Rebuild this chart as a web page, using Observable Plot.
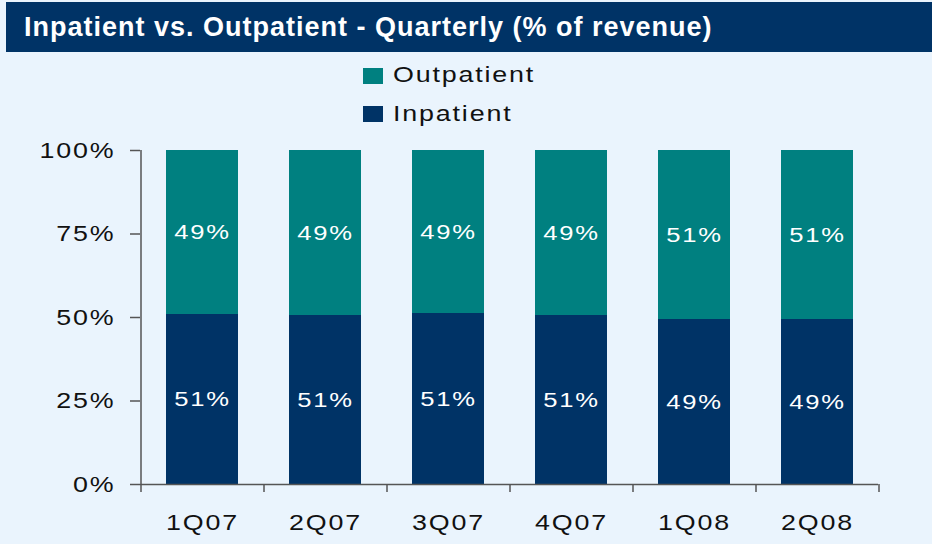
<!DOCTYPE html>
<html><head><meta charset="utf-8">
<script src="https://cdn.jsdelivr.net/npm/d3@7"></script>
<script src="https://cdn.jsdelivr.net/npm/@observablehq/plot@0.6"></script>
<style>
html,body{margin:0;padding:0;background:#eaf4fd;width:932px;height:544px;overflow:hidden;font-family:"Liberation Sans",Arial,sans-serif;}
#title{position:absolute;left:6px;top:2px;width:926px;height:50px;background:#003366;color:#fff;font-weight:bold;font-size:27px;line-height:50px;padding-left:18px;box-sizing:border-box;letter-spacing:1px;white-space:nowrap;}
.sw{position:absolute;width:20px;height:16px;}
.lt{position:absolute;font-size:22px;line-height:22px;letter-spacing:1.5px;color:#111;white-space:nowrap;transform:scaleX(1.22);transform-origin:0 50%;}
#chart{position:absolute;left:0;top:130px;}
#chart svg text{letter-spacing:1.5px;}
</style></head><body>
<div id="title">Inpatient vs. Outpatient - Quarterly (% of revenue)</div>
<div id="legend"></div>
<div id="chart"></div>
<script>
const quarters = ["1Q07","2Q07","3Q07","4Q07","1Q08","2Q08"];
const inpatient = [50.9, 50.6, 51.2, 50.6, 49.4, 49.4];
const outpatient = [49.1, 49.4, 48.8, 49.4, 50.6, 50.6];
const inpatientLabels = ["51%","51%","51%","51%","49%","49%"];
const outpatientLabels = ["49%","49%","49%","49%","51%","51%"];
const seriesNames = ["Inpatient","Outpatient"];
const seriesColors = ["#003366","#008080"];
const legendOrder = ["Outpatient","Inpatient"];
const yTicks = [0,25,50,75,100];

const rows = [];
quarters.forEach((q,i)=>rows.push({quarter:q, series:"Inpatient", value:inpatient[i], label:inpatientLabels[i], mid:inpatient[i]/2}));
quarters.forEach((q,i)=>rows.push({quarter:q, series:"Outpatient", value:outpatient[i], label:outpatientLabels[i], mid:inpatient[i]+outpatient[i]/2}));

// legend (HTML, above the svg)
const legend = document.getElementById("legend");
legendOrder.forEach((name,k)=>{
  const sw = document.createElement("div");
  sw.className = "sw";
  sw.style.left = "363px";
  sw.style.top = (68 + 38*k) + "px";
  sw.style.background = seriesColors[seriesNames.indexOf(name)];
  legend.appendChild(sw);
  const t = document.createElement("div");
  t.className = "lt";
  t.style.left = "393px";
  t.style.top = (64 + 39*k) + "px";
  t.textContent = name;
  legend.appendChild(t);
});

const W = 932, H = 414, mL = 140, mR = 54;
const step = (W - mL - mR) / quarters.length;
const axisColor = "#555";

const chart = Plot.plot({
  width: W, height: H,
  marginLeft: mL, marginRight: mR, marginTop: 20, marginBottom: 60,
  style: {background: "transparent", fontFamily: "'Liberation Sans', Arial, sans-serif", fontSize: "22px", color: "#111"},
  x: {domain: quarters, paddingInner: 0.415, paddingOuter: 0.2075, label: null},
  y: {domain: [0, 100], label: null},
  color: {domain: seriesNames, range: seriesColors},
  marks: [
    Plot.barY(rows, {x: "quarter", y: "value", fill: "series"}),
    Plot.text(rows, {x: "quarter", y: "mid", text: "label", fill: "white", fontSize: 21}),
    Plot.ruleY([0], {stroke: axisColor, strokeWidth: 1.5}),
    Plot.ruleX([quarters[0]], {y1: 0, y2: 100, dx: -step/2, stroke: axisColor, strokeWidth: 1.5}),
    Plot.axisY({ticks: yTicks, tickSize: 10, tickPadding: 15, tickFormat: d => d + "%", stroke: axisColor, strokeWidth: 1.5, label: null}),
    Plot.axisX({tickSize: 0, tickPadding: 30, label: null}),
    Plot.axisX({tickSize: 8, tickFormat: () => "", dx: -step/2, stroke: axisColor, strokeWidth: 1.5, label: null}),
    Plot.axisX({ticks: [quarters[quarters.length-1]], tickSize: 8, tickFormat: () => "", dx: step/2, stroke: axisColor, strokeWidth: 1.5, label: null})
  ]
});
// widen glyphs horizontally around each text's own anchor point, as in the original artwork
chart.querySelectorAll("text").forEach(t => {
  const tr = t.getAttribute("transform");
  if (tr && tr.includes("translate")) t.setAttribute("transform", tr + " scale(1.22,1)");
});
document.getElementById("chart").appendChild(chart);
</script>
</body></html>
